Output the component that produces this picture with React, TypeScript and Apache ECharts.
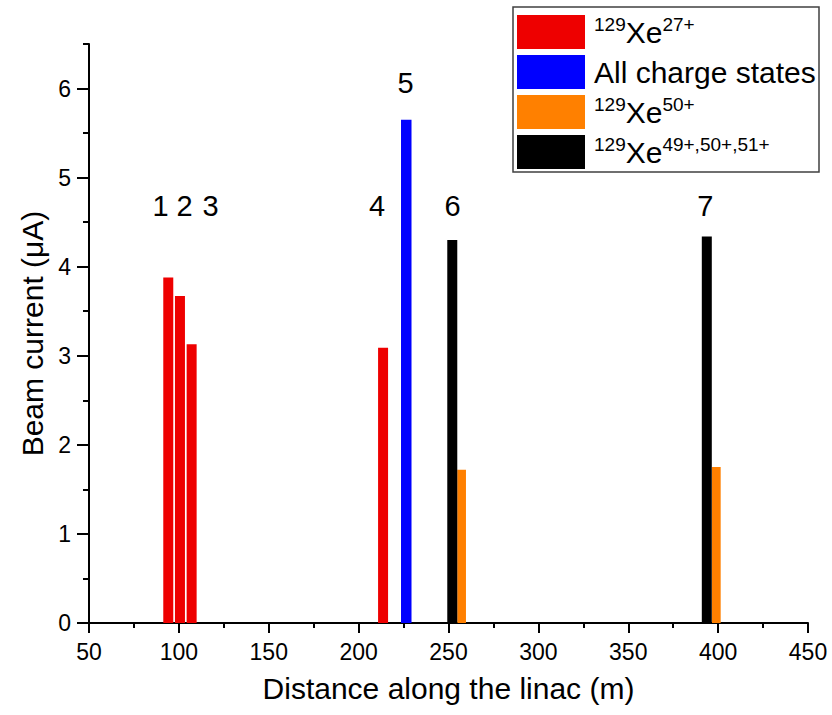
import React, { useEffect, useRef } from "react";
import * as echarts from "echarts";

// Beam current of 129Xe ions along the linac (distance in m, current in µA)
const xe27Distance = [94.1, 100.6, 107.1, 213.6];
const xe27Current = [3.88, 3.67, 3.13, 3.09];

const allStatesDistance = [226.5];
const allStatesCurrent = [5.65];

const xe50Distance = [257.3, 399.0];
const xe50Current = [1.72, 1.75];

const xe495051Distance = [252.1, 393.7];
const xe495051Current = [4.3, 4.34];

// Measurement station numbers drawn above the bars
const stationLabels = ["1", "2", "3", "4", "5", "6", "7"];
const stationDistance = [89.8, 103.2, 117.6, 210.2, 226.1, 252.2, 392.9];
const stationHeight = [4.68, 4.68, 4.68, 4.68, 6.06, 4.68, 4.68];

// Axis ticks
const yMajorTicks = [0, 1, 2, 3, 4, 5, 6];

const FONT = "'Liberation Sans', Arial, Helvetica, sans-serif";

const seriesNames = ["xe27", "all", "xe50", "xe495051"];

const legendText: Record<string, string> = {
  xe27: "{sup|129}{base|Xe}{sup|27+}",
  all: "{base|All charge states}",
  xe50: "{sup|129}{base|Xe}{sup|50+}",
  xe495051: "{sup|129}{base|Xe}{sup|49+,50+,51+}",
};

function pairs(xs: number[], ys: number[]) {
  return xs.map((x, i) => [x, ys[i]]);
}

function barSeries(name: string, color: string, widthPx: number, data: number[][], z: number) {
  return {
    type: "custom",
    name,
    z,
    itemStyle: { color },
    encode: { x: 0, y: 1 },
    data,
    renderItem: (_params: any, api: any) => {
      const x = api.value(0);
      const v = api.value(1);
      const top = api.coord([x, v]);
      const base = api.coord([x, 0]);
      return {
        type: "rect",
        shape: {
          x: top[0] - widthPx / 2,
          y: top[1],
          width: widthPx,
          height: base[1] - top[1],
        },
        style: { fill: color },
      };
    },
  };
}

export default function App() {
  const ref = useRef<HTMLDivElement>(null);

  useEffect(() => {
    if (!ref.current) return;
    const chart = echarts.init(ref.current, null, { renderer: "svg" });

    const option: any = {
      animation: false,
      backgroundColor: "#ffffff",
      textStyle: { fontFamily: FONT },
      grid: {
        left: 89,
        right: 24,
        top: 44,
        bottom: 92,
        containLabel: false,
        outerBoundsMode: "none",
      },
      xAxis: [
        {
          type: "value",
          min: 50,
          max: 450,
          interval: 50,
          name: "Distance along the linac (m)",
          nameLocation: "middle",
          nameGap: 50,
          nameTextStyle: { fontSize: 30, color: "#000", fontFamily: FONT },
          axisLine: { show: true, onZero: false, lineStyle: { color: "#000", width: 2 } },
          axisTick: { show: true, length: 10, lineStyle: { color: "#000", width: 2 } },
          minorTick: { show: true, splitNumber: 2, length: 5, lineStyle: { color: "#000", width: 2 } },
          splitLine: { show: false },
          minorSplitLine: { show: false },
          axisLabel: { fontSize: 23, color: "#000", margin: 17, fontFamily: FONT },
        },
      ],
      yAxis: [
        {
          // minor ticks every 0.5 µA, axis line and labels
          type: "value",
          min: 0,
          max: 6.5,
          interval: 0.5,
          position: "left",
          name: "Beam current (\u03bcA)",
          nameLocation: "middle",
          nameGap: 31,
          nameTextStyle: { fontSize: 30, color: "#000", fontFamily: FONT },
          axisLine: { show: true, onZero: false, lineStyle: { color: "#000", width: 2 } },
          axisTick: { show: true, length: 6, lineStyle: { color: "#000", width: 2 } },
          splitLine: { show: false },
          axisLabel: {
            fontSize: 23,
            color: "#000",
            margin: 18,
            fontFamily: FONT,
            customValues: yMajorTicks,
          },
        },
        {
          // major ticks at whole µA
          type: "value",
          min: 0,
          max: 6.5,
          interval: 0.5,
          position: "left",
          offset: 0,
          axisLine: { show: false },
          axisTick: {
            show: true,
            length: 12,
            customValues: yMajorTicks,
            lineStyle: { color: "#000", width: 2 },
          },
          axisLabel: { show: false },
          splitLine: { show: false },
        },
      ],
      legend: {
        orient: "vertical",
        left: 517,
        top: 15,
        padding: 0,
        icon: "rect",
        itemWidth: 68,
        itemHeight: 34,
        itemGap: 6,
        selectedMode: false,
        data: seriesNames,
        formatter: (name: string) => legendText[name],
        textStyle: {
          color: "#000",
          fontFamily: FONT,
          fontSize: 30,
          padding: [0, 0, 0, 4],
          rich: {
            base: { fontSize: 30, lineHeight: 34, color: "#000", fontFamily: FONT },
            sup: {
              fontSize: 19,
              lineHeight: 17,
              verticalAlign: "top",
              color: "#000",
              fontFamily: FONT,
            },
          },
        },
      },
      graphic: [
        {
          type: "rect",
          z: 0,
          silent: true,
          shape: { x: 513, y: 7, width: 306, height: 165 },
          style: { fill: "none", stroke: "#404040", lineWidth: 1.5 },
        },
      ],
      series: [
        barSeries("xe27", "#ee0000", 10, pairs(xe27Distance, xe27Current), 3),
        barSeries("all", "#0000ff", 10.5, pairs(allStatesDistance, allStatesCurrent), 3),
        barSeries("xe50", "#ff8000", 8.7, pairs(xe50Distance, xe50Current), 2),
        barSeries("xe495051", "#000000", 10, pairs(xe495051Distance, xe495051Current), 3),
        {
          type: "custom",
          name: "stations",
          encode: { x: 0, y: 1 },
          data: pairs(stationDistance, stationHeight),
          renderItem: (params: any, api: any) => {
            const p = api.coord([api.value(0), api.value(1)]);
            return {
              type: "text",
              x: p[0],
              y: p[1],
              style: {
                text: stationLabels[params.dataIndex],
                fill: "#000",
                fontSize: 29,
                fontFamily: FONT,
                align: "center",
                verticalAlign: "middle",
              },
            };
          },
        },
      ],
    };

    chart.setOption(option);
    return () => chart.dispose();
  }, []);

  return (
    <div
      ref={ref}
      style={{ position: "fixed", left: 0, top: 0, width: 832, height: 715, background: "#fff" }}
    />
  );
}
